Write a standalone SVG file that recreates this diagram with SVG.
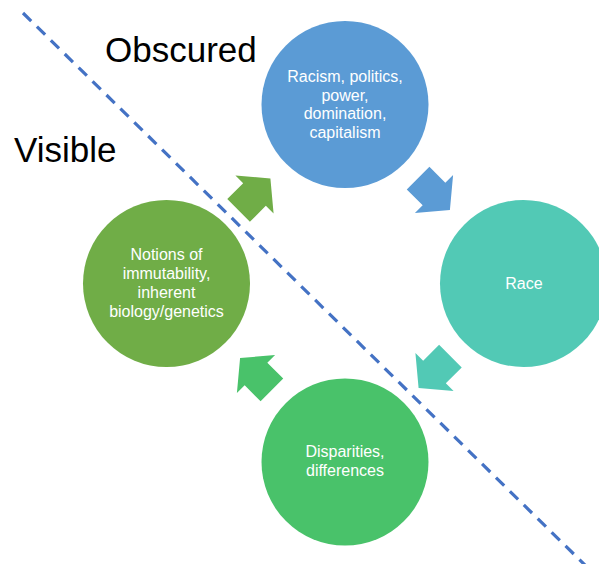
<svg xmlns="http://www.w3.org/2000/svg" width="599" height="564" viewBox="0 0 599 564">
  <style>
    .lbl { font-family: "Liberation Sans", Arial, sans-serif; font-size: 16px; fill: #ffffff; text-anchor: middle; }
    .big { font-family: "Liberation Sans", Arial, sans-serif; font-size: 35px; fill: #000000; }
    .divider { stroke: #4472C4; stroke-width: 3.2; stroke-dasharray: 11.5 8; fill: none; }
  </style>
  <defs>
    <polygon id="arrow" points="-22.5,-16 0,-16 0,-27 22.5,0 0,27 0,16 -22.5,16"/>
  </defs>
  <rect width="599" height="564" fill="#ffffff"/>

  <g id="divider">
    <line class="divider" x1="23" y1="13" x2="588" y2="568"/>
  </g>

  <g id="label-obscured"><text class="big" x="105" y="62">Obscured</text></g>
  <g id="label-visible"><text class="big" x="14" y="162">Visible</text></g>

  <g id="node-racism">
    <circle cx="345" cy="104.5" r="83.5" fill="#5B9BD5"/>
    <text class="lbl" x="345" y="82">Racism, politics,</text>
    <text class="lbl" x="345" y="100.5">power,</text>
    <text class="lbl" x="345" y="119">domination,</text>
    <text class="lbl" x="345" y="137.5">capitalism</text>
  </g>

  <g id="node-race">
    <circle cx="523.5" cy="283.5" r="83.5" fill="#52C9B5"/>
    <text class="lbl" x="524" y="288.5">Race</text>
  </g>

  <g id="node-disparities">
    <circle cx="345" cy="462" r="83.5" fill="#49C26A"/>
    <text class="lbl" x="345" y="457">Disparities,</text>
    <text class="lbl" x="345" y="476">differences</text>
  </g>

  <g id="node-notions">
    <circle cx="166.5" cy="283.5" r="83.5" fill="#70AD47"/>
    <text class="lbl" x="166.5" y="260">Notions of</text>
    <text class="lbl" x="166.5" y="279">immutability,</text>
    <text class="lbl" x="166.5" y="298">inherent</text>
    <text class="lbl" x="166.5" y="317">biology/genetics</text>
  </g>

  <g id="connectors">
    <use href="#arrow" transform="translate(254.5,194.5) rotate(-45)" fill="#70AD47"/>
    <use href="#arrow" transform="translate(434,194) rotate(45)" fill="#5B9BD5"/>
    <use href="#arrow" transform="translate(434.5,372) rotate(135)" fill="#52C9B5"/>
    <use href="#arrow" transform="translate(256,374) rotate(-135)" fill="#49C26A"/>
  </g>
</svg>
